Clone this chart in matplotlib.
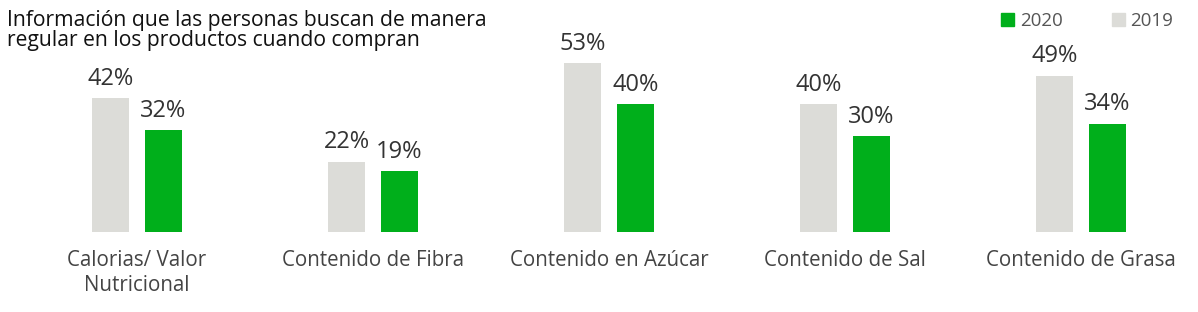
import matplotlib.pyplot as plt
from matplotlib.patches import Patch

categories = ["Calorias/ Valor\nNutricional", "Contenido de Fibra", "Contenido en Azúcar",
              "Contenido de Sal", "Contenido de Grasa"]
values_2019 = [42, 22, 53, 40, 49]
values_2020 = [32, 19, 40, 30, 34]

gray = "#DCDCD8"
green = "#00AF1B"
txt = "#333333"

plt.rcParams["font.family"] = ["Open Sans", "DejaVu Sans"]

fig = plt.figure(figsize=(11.98, 3.12), dpi=100)
ax = fig.add_axes([0, 0, 1, 1])

x = list(range(len(categories)))
w = 0.157
off = 0.111
b1 = ax.bar([i - off for i in x], values_2019, width=w, color=gray)
b2 = ax.bar([i + off for i in x], values_2020, width=w, color=green)

for bars, vals in [(b1, values_2019), (b2, values_2020)]:
    for b, v in zip(bars, vals):
        ax.text(b.get_x() + b.get_width() / 2, v + 2.3, f"{v}%", ha="center", va="bottom",
                fontsize=17, color=txt)

for i, c in enumerate(categories):
    ax.text(i, -5.5, c, ha="center", va="top", fontsize=14.8, color="#444444", linespacing=1.3)

ax.set_xlim(-137 / 236, (1198 - 137) / 236)
ax.set_ylim(-80 / 3.19, (312 - 80) / 3.19)
ax.axis("off")

fig.text(7 / 1198, 1 - 10 / 312, "Información que las personas buscan de manera\nregular en los productos cuando compran",
         ha="left", va="top", fontsize=15.2, color="#111111", linespacing=0.95)

handles = [Patch(color=green, label="2020"), Patch(color=gray, label="2019")]
fig.legend(handles=handles, ncol=2, frameon=False, loc="upper right",
           bbox_to_anchor=(1190 / 1198, 1 + 5 / 312), fontsize=13.5, handlelength=0.7,
           handleheight=0.7, handletextpad=0.3, columnspacing=2.6, labelcolor="#555555")

plt.savefig("out.png", dpi=100)
